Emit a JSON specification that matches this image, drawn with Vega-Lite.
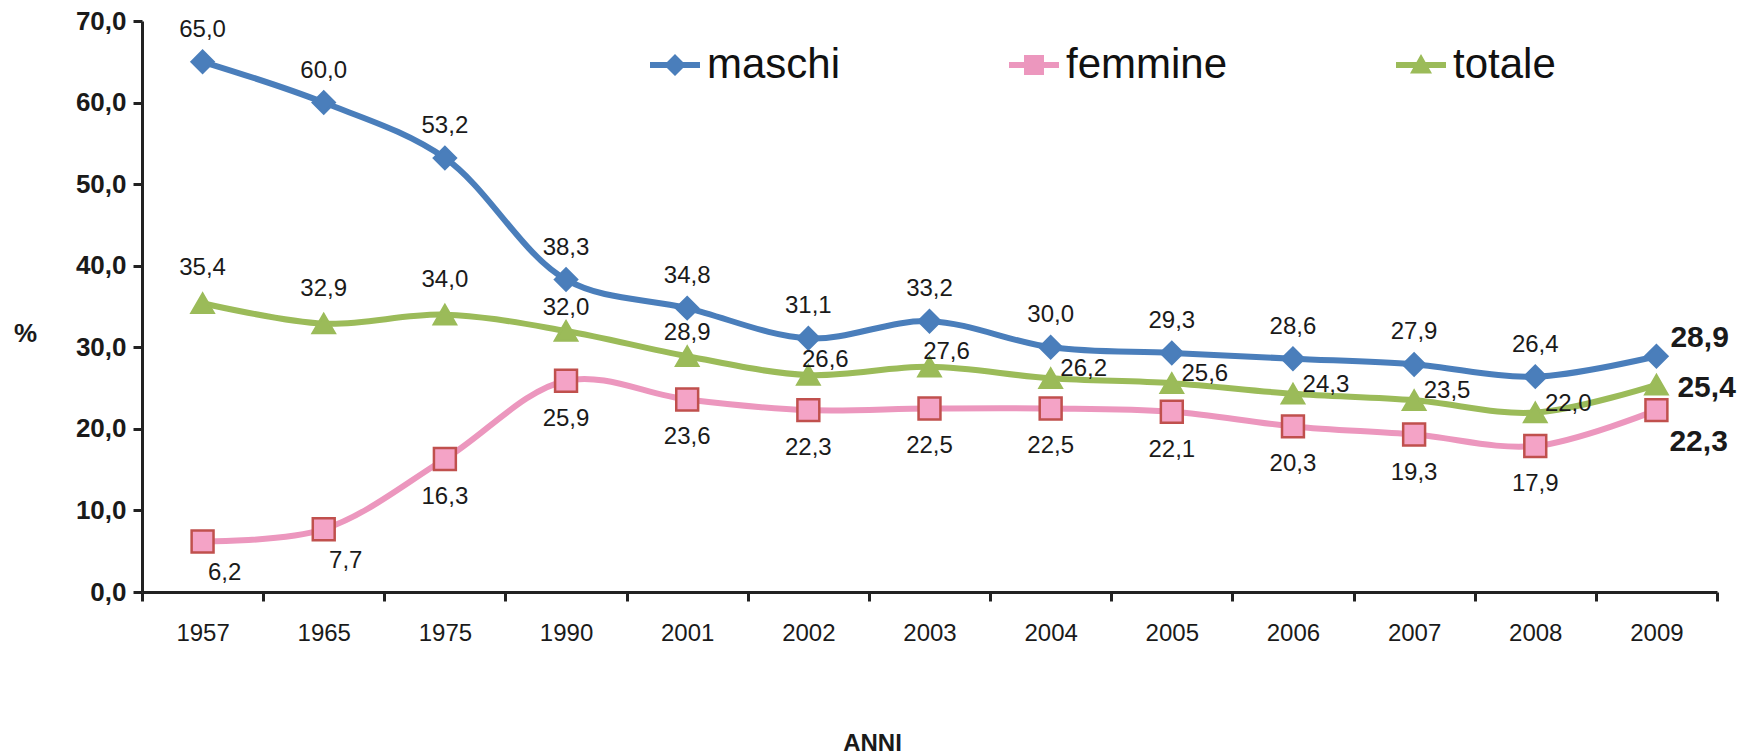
{
  "$schema": "https://vega.github.io/schema/vega-lite/v6.json",
  "width": 1575,
  "height": 571,
  "autosize": {"type": "none"},
  "padding": {"left": 142, "top": 21, "right": 33, "bottom": 162},
  "background": "white",
  "config": {
    "locale": {"number": {"decimal": ",", "thousands": ".", "grouping": [3], "currency": ["", " €"]}},
    "view": {"stroke": null},
    "font": "Liberation Sans",
    "text": {"font": "Liberation Sans", "fontSize": 24, "color": "#1a1a1a", "baseline": "middle", "align": "center"}
  },
  "data": {
    "values": [
      {"anno": "1957", "serie": "maschi", "valore": 65.0},
      {"anno": "1965", "serie": "maschi", "valore": 60.0},
      {"anno": "1975", "serie": "maschi", "valore": 53.2},
      {"anno": "1990", "serie": "maschi", "valore": 38.3},
      {"anno": "2001", "serie": "maschi", "valore": 34.8},
      {"anno": "2002", "serie": "maschi", "valore": 31.1},
      {"anno": "2003", "serie": "maschi", "valore": 33.2},
      {"anno": "2004", "serie": "maschi", "valore": 30.0},
      {"anno": "2005", "serie": "maschi", "valore": 29.3},
      {"anno": "2006", "serie": "maschi", "valore": 28.6},
      {"anno": "2007", "serie": "maschi", "valore": 27.9},
      {"anno": "2008", "serie": "maschi", "valore": 26.4},
      {"anno": "2009", "serie": "maschi", "valore": 28.9},
      {"anno": "1957", "serie": "femmine", "valore": 6.2},
      {"anno": "1965", "serie": "femmine", "valore": 7.7},
      {"anno": "1975", "serie": "femmine", "valore": 16.3},
      {"anno": "1990", "serie": "femmine", "valore": 25.9},
      {"anno": "2001", "serie": "femmine", "valore": 23.6},
      {"anno": "2002", "serie": "femmine", "valore": 22.3},
      {"anno": "2003", "serie": "femmine", "valore": 22.5},
      {"anno": "2004", "serie": "femmine", "valore": 22.5},
      {"anno": "2005", "serie": "femmine", "valore": 22.1},
      {"anno": "2006", "serie": "femmine", "valore": 20.3},
      {"anno": "2007", "serie": "femmine", "valore": 19.3},
      {"anno": "2008", "serie": "femmine", "valore": 17.9},
      {"anno": "2009", "serie": "femmine", "valore": 22.3},
      {"anno": "1957", "serie": "totale", "valore": 35.4},
      {"anno": "1965", "serie": "totale", "valore": 32.9},
      {"anno": "1975", "serie": "totale", "valore": 34.0},
      {"anno": "1990", "serie": "totale", "valore": 32.0},
      {"anno": "2001", "serie": "totale", "valore": 28.9},
      {"anno": "2002", "serie": "totale", "valore": 26.6},
      {"anno": "2003", "serie": "totale", "valore": 27.6},
      {"anno": "2004", "serie": "totale", "valore": 26.2},
      {"anno": "2005", "serie": "totale", "valore": 25.6},
      {"anno": "2006", "serie": "totale", "valore": 24.3},
      {"anno": "2007", "serie": "totale", "valore": 23.5},
      {"anno": "2008", "serie": "totale", "valore": 22.0},
      {"anno": "2009", "serie": "totale", "valore": 25.4}
    ]
  },
  "encoding": {
    "x": {
      "field": "anno",
      "type": "ordinal",
      "sort": null,
      "scale": {"type": "band", "paddingInner": 0, "paddingOuter": 0},
      "axis": {
        "title": "ANNI",
        "titleFontSize": 24,
        "titleFontWeight": "bold",
        "titleColor": "#1a1a1a",
        "titleX": 730,
        "titleY": 151,
        "titleBaseline": "middle",
        "titleAlign": "center",
        "labelAngle": 0,
        "labelFontSize": 24,
        "labelColor": "#1a1a1a",
        "labelPadding": 20,
        "tickBand": "extent",
        "tickSize": 9,
        "tickWidth": 3,
        "tickColor": "#222222",
        "domainColor": "#222222",
        "domainWidth": 3,
        "grid": false
      }
    },
    "y": {
      "field": "valore",
      "type": "quantitative",
      "scale": {"domain": [0, 70], "nice": false, "zero": true},
      "axis": {
        "title": "%",
        "titleAngle": 0,
        "titleX": -117,
        "titleY": 312,
        "titleAlign": "center",
        "titleBaseline": "middle",
        "titleFontSize": 26,
        "titleFontWeight": "bold",
        "titleColor": "#1a1a1a",
        "values": [0, 10, 20, 30, 40, 50, 60, 70],
        "format": ".1f",
        "labelFontSize": 26,
        "labelFontWeight": "bold",
        "labelColor": "#1a1a1a",
        "labelPadding": 7,
        "tickSize": 9,
        "tickWidth": 3,
        "tickColor": "#222222",
        "domainColor": "#222222",
        "domainWidth": 3,
        "grid": false
      }
    }
  },
  "layer": [
    {
      "mark": {"type": "line", "interpolate": "catmull-rom", "strokeWidth": 6},
      "encoding": {
        "color": {
          "field": "serie",
          "type": "nominal",
          "scale": {"domain": ["maschi", "femmine", "totale"], "range": ["#4A7EBB", "#EC97BE", "#9BBB59"]},
          "legend": null
        }
      }
    },
    {
      "mark": {"type": "point", "filled": true, "size": 480, "strokeWidth": 2.5, "opacity": 1},
      "encoding": {
        "shape": {
          "field": "serie",
          "type": "nominal",
          "scale": {"domain": ["maschi", "femmine", "totale"], "range": ["diamond", "square", "triangle-up"]},
          "legend": null
        },
        "fill": {
          "field": "serie",
          "type": "nominal",
          "scale": {"domain": ["maschi", "femmine", "totale"], "range": ["#4A7EBB", "#F4A3C6", "#9BBB59"]},
          "legend": null
        },
        "stroke": {
          "field": "serie",
          "type": "nominal",
          "scale": {"domain": ["maschi", "femmine", "totale"], "range": ["#4A7EBB", "#C0504D", "#9BBB59"]},
          "legend": null
        }
      }
    },
    {
      "transform": [{"filter": "datum.serie == 'maschi' && datum.anno != '2009'"}],
      "mark": {"type": "text", "dy": -32},
      "encoding": {"text": {"field": "valore", "type": "quantitative", "format": ".1f"}}
    },
    {
      "transform": [{"filter": "datum.serie == 'femmine' && indexof(['1957','1965'], datum.anno) >= 0"}],
      "mark": {"type": "text", "dx": 22, "dy": 32},
      "encoding": {"text": {"field": "valore", "type": "quantitative", "format": ".1f"}}
    },
    {
      "transform": [{"filter": "datum.serie == 'femmine' && indexof(['1957','1965','2009'], datum.anno) < 0"}],
      "mark": {"type": "text", "dy": 38},
      "encoding": {"text": {"field": "valore", "type": "quantitative", "format": ".1f"}}
    },
    {
      "transform": [{"filter": "datum.serie == 'totale' && indexof(['1957','1965','1975'], datum.anno) >= 0"}],
      "mark": {"type": "text", "dy": -35},
      "encoding": {"text": {"field": "valore", "type": "quantitative", "format": ".1f"}}
    },
    {
      "transform": [{"filter": "datum.serie == 'totale' && indexof(['1990','2001'], datum.anno) >= 0"}],
      "mark": {"type": "text", "dy": -23},
      "encoding": {"text": {"field": "valore", "type": "quantitative", "format": ".1f"}}
    },
    {
      "transform": [{"filter": "datum.serie == 'totale' && indexof(['2002','2003'], datum.anno) >= 0"}],
      "mark": {"type": "text", "dx": 17, "dy": -15},
      "encoding": {"text": {"field": "valore", "type": "quantitative", "format": ".1f"}}
    },
    {
      "transform": [{"filter": "datum.serie == 'totale' && indexof(['2004','2005','2006','2007','2008'], datum.anno) >= 0"}],
      "mark": {"type": "text", "dx": 33, "dy": -9},
      "encoding": {"text": {"field": "valore", "type": "quantitative", "format": ".1f"}}
    },
    {
      "transform": [{"filter": "datum.serie == 'maschi' && datum.anno == '2009'"}],
      "mark": {"type": "text", "dx": 14, "dy": -18, "align": "left", "fontSize": 30, "fontWeight": "bold"},
      "encoding": {"text": {"field": "valore", "type": "quantitative", "format": ".1f"}}
    },
    {
      "transform": [{"filter": "datum.serie == 'totale' && datum.anno == '2009'"}],
      "mark": {"type": "text", "dx": 21, "dy": 3, "align": "left", "fontSize": 30, "fontWeight": "bold"},
      "encoding": {"text": {"field": "valore", "type": "quantitative", "format": ".1f"}}
    },
    {
      "transform": [{"filter": "datum.serie == 'femmine' && datum.anno == '2009'"}],
      "mark": {"type": "text", "dx": 13, "dy": 32, "align": "left", "fontSize": 30, "fontWeight": "bold"},
      "encoding": {"text": {"field": "valore", "type": "quantitative", "format": ".1f"}}
    },
    {
      "transform": [{"filter": "datum.anno == '2009'"}],
      "mark": {"type": "point", "filled": true, "opacity": 0},
      "encoding": {
        "shape": {
          "field": "serie",
          "type": "nominal",
          "scale": {
            "domain": ["maschi", "femmine", "totale"],
            "range": [
              "M-1,-0.12H1V0.12H-1Z M0,-0.44L0.44,0L0,0.44L-0.44,0Z",
              "M-1,-0.12H1V0.12H-1Z M-0.4,-0.4H0.4V0.4H-0.4Z",
              "M-1,-0.12H1V0.12H-1Z M0,-0.44L0.44,0.34H-0.44Z"
            ]
          },
          "legend": {
            "title": null, "orient": "none", "legendX": 508, "legendY": 19, "direction": "horizontal",
            "columnPadding": 168, "labelFontSize": 42, "labelLimit": 400, "labelFont": "Liberation Sans", "labelColor": "#111111",
            "symbolSize": 2500, "symbolStrokeWidth": 0, "symbolOpacity": 1, "labelOffset": 7, "padding": 0
          }
        },
        "fill": {
          "field": "serie",
          "type": "nominal",
          "scale": {"domain": ["maschi", "femmine", "totale"], "range": ["#4A7EBB", "#EC97BE", "#9BBB59"]},
          "legend": {
            "title": null, "orient": "none", "legendX": 508, "legendY": 19, "direction": "horizontal",
            "columnPadding": 168, "labelFontSize": 42, "labelLimit": 400, "labelFont": "Liberation Sans", "labelColor": "#111111",
            "symbolSize": 2500, "symbolStrokeWidth": 0, "symbolOpacity": 1, "labelOffset": 7, "padding": 0
          }
        }
      }
    }
  ],
  "resolve": {"scale": {"shape": "independent", "fill": "independent", "stroke": "independent"}}
}
